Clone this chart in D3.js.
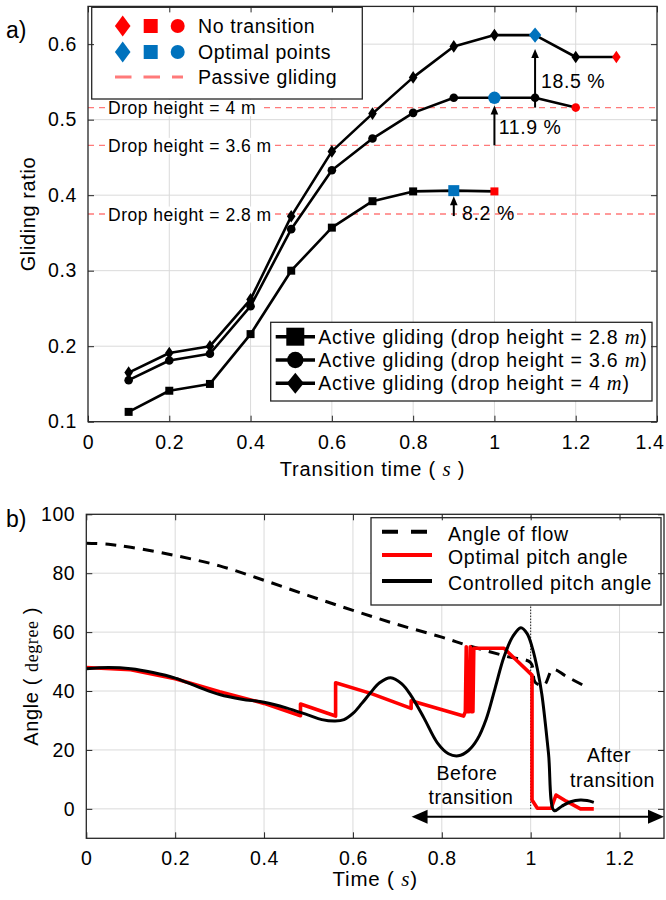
<!DOCTYPE html>
<html><head><meta charset="utf-8">
<script src="https://cdn.jsdelivr.net/npm/d3@7"></script>
<style>
body{margin:0;background:#fff;}
svg text{font-family:"Liberation Sans",Arial,sans-serif;fill:#000;}
</style></head><body>
<svg id="fig" width="666" height="900"></svg>
<script>
// ---------- panel a: gliding ratio vs transition time ----------
const transitionTimes = [0.1,0.2,0.3,0.4,0.5,0.6,0.7,0.8,0.9,1.0,1.1,1.2,1.3];
const ratioDrop28 = [0.113,0.141,0.150,0.216,0.300,0.357,0.392,0.405,0.406,0.405];
const ratioDrop36 = [0.155,0.181,0.190,0.253,0.355,0.433,0.475,0.509,0.529,0.529,0.529,0.516];
const ratioDrop40 = [0.165,0.191,0.200,0.262,0.372,0.458,0.508,0.556,0.597,0.612,0.612,0.583,0.583];
const dropHeights = ["2.8","3.6","4"];
const passiveRatios = [0.375,0.466,0.516];
const optimalIndex = [8,9,10];
const gainLabels = ["8.2 %","11.9 %","18.5 %"];
const ticksAx = [0,0.2,0.4,0.6,0.8,1,1.2,1.4];
const ticksAy = [0.1,0.2,0.3,0.4,0.5,0.6];

// ---------- panel b: pitch angle history ----------
const flowTime  = [0,0.05,0.1,0.2,0.3,0.4,0.5,0.6,0.7,0.8,0.86,0.95,1.0,1.01,1.03,1.05,1.08,1.13];
const flowAngle = [90.2,89.8,88.8,86,82.5,77.6,72.4,67.4,62.6,58.3,55.4,51.6,49.6,43,42,47.3,45,41];
const optTime  = [0,0.1,0.2,0.3,0.4,0.482,0.482,0.561,0.561,0.64,0.731,0.731,0.849,0.853,0.855,0.857,0.862,0.864,0.866,0.87,0.872,0.94,1.003,1.003,1.015,1.046,1.057,1.08,1.112,1.142];
const optAngle = [48,47.2,44.2,39.8,35.8,31.6,35.6,31.5,42.8,39.2,34.1,36.7,31.5,33,55,33,33,55,33,33,54.5,54.5,45.4,3,0.2,0.2,4.7,2.6,0,0];
const ctrlTime  = [0,0.05,0.1,0.15,0.2,0.25,0.3,0.35,0.4,0.45,0.5,0.53,0.56,0.58,0.6,0.62,0.64,0.66,0.685,0.71,0.73,0.76,0.79,0.815,0.837,0.86,0.88,0.9,0.92,0.94,0.96,0.978,0.992,1.004,1.015,1.025,1.04,1.053,1.07,1.09,1.112,1.127,1.142];
const ctrlAngle = [47.6,48,47.6,46.3,44.4,41.5,38.8,37.2,36.2,34.3,31.8,30.3,29.8,30.3,32.4,35.8,39.5,42.8,44.5,42.4,38.6,30.8,22.4,18.7,18,19.8,23.6,30.5,41,51.6,58.6,61.5,59.5,54.5,47.5,39,19,-0.6,0.9,2.4,3,2.8,2.2];
const ticksBx = [0,0.2,0.4,0.6,0.8,1,1.2];
const ticksBy = [0,20,40,60,80,100];
const transitionMoment = 1.0;
const phaseSpan = [0.732,1.3];

const RED = "#ff0000", BLUE = "#0072bd", PASSIVE = "#ff7a7a", AX = "#262626", GRID = "#dadada";
const FONT = "Liberation Sans, Arial, sans-serif", SERIF = "Liberation Serif, Times New Roman, serif";
const svg = d3.select("#fig");
svg.append("rect").attr("width",666).attr("height",900).attr("fill","#fff");

// marker path generators (centred at 0,0)
const diamondPath = (w,h)=>`M0,${-h}L${w},0L0,${h}L${-w},0Z`;
const squarePath = s=>`M${-s},${-s}H${s}V${s}H${-s}Z`;
const circlePath = r=>d3.symbol(d3.symbolCircle, Math.PI*r*r)();
function marker(g, kind, x, y, color, big){
  let d;
  if(kind==="square") d = squarePath(big?5.5:4);
  else if(kind==="circle") d = circlePath(big?6.2:4.3);
  else d = diamondPath(big?6.2:4.3, big?7.6:6.3);
  g.append("path").attr("d",d).attr("transform",`translate(${x},${y})`).attr("fill",color);
}

function frame(g, x, y, ticksX, ticksY){
  const [x0,x1] = x.range(), [y0,y1] = y.range();
  const grid = g.append("g");
  ticksX.forEach(t=>{ if(x(t)>x0+0.5 && x(t)<x1-0.5) grid.append("line").attr("x1",x(t)).attr("x2",x(t)).attr("y1",y0).attr("y2",y1).attr("stroke",GRID).attr("stroke-width",1);});
  ticksY.forEach(t=>{ if(y(t)<y0-0.5 && y(t)>y1+0.5) grid.append("line").attr("y1",y(t)).attr("y2",y(t)).attr("x1",x0).attr("x2",x1).attr("stroke",GRID).attr("stroke-width",1);});
}
function axesBox(g, x, y, ticksX, ticksY, fmtX, fmtY){
  const [x0,x1] = x.range(), [y0,y1] = y.range();
  const tl = 6;
  // bottom & left axes carry the labels; top & right only mirror the ticks
  const bx = d3.axisBottom(x).tickValues(ticksX).tickSizeInner(-tl).tickSizeOuter(0).tickPadding(13).tickFormat(fmtX);
  const ly = d3.axisLeft(y).tickValues(ticksY).tickSizeInner(-tl).tickSizeOuter(0).tickPadding(11).tickFormat(fmtY);
  const tx = d3.axisTop(x).tickValues(ticksX).tickSizeInner(-tl).tickSizeOuter(0).tickFormat("");
  const ry = d3.axisRight(y).tickValues(ticksY).tickSizeInner(-tl).tickSizeOuter(0).tickFormat("");
  const out = [];
  [[bx,`translate(0,${y0})`],[ly,`translate(${x0},0)`],[tx,`translate(0,${y1})`],[ry,`translate(${x1},0)`]].forEach(([a,t])=>{
    const ag = g.append("g").attr("transform",t).call(a);
    ag.select(".domain").remove();
    ag.selectAll("line").attr("stroke",AX);
    ag.selectAll("text").attr("font-size",19.5).attr("letter-spacing",0.6).attr("fill","#000").attr("font-family",FONT);
    out.push(ag);
  });
  g.append("rect").attr("x",x0).attr("y",y1).attr("width",x1-x0).attr("height",y0-y1).attr("fill","none").attr("stroke",AX).attr("stroke-width",1.3);
  return out;
}

// ================= panel a =================
const xa = d3.scaleLinear().domain([0,1.4]).range([88,657]);
const ya = d3.scaleLinear().domain([0.1,0.65]).range([421.7,6.4]);
const ga = svg.append("g");
frame(ga, xa, ya, ticksAx, ticksAy);

// passive gliding levels
passiveRatios.forEach(p=>{
  ga.append("line").attr("x1",xa.range()[0]).attr("x2",xa.range()[1]).attr("y1",ya(p)).attr("y2",ya(p))
    .attr("stroke",PASSIVE).attr("stroke-width",1.4).attr("stroke-dasharray","6,5");
});
passiveRatios.forEach((p,i)=>{
  const t = ga.append("text").attr("x",108).attr("y",ya(p)+6.5).attr("font-size",17.5).attr("letter-spacing",0.5)
    .text(`Drop height = ${dropHeights[i]} m`);
  const bb = t.node().getBBox();
  ga.insert("rect", function(){return t.node();}).attr("x",bb.x-3).attr("y",bb.y+2).attr("width",bb.width+6).attr("height",bb.height-4).attr("fill","#fff");
});

const seriesA = [
  {vals: ratioDrop28, kind:"square"},
  {vals: ratioDrop36, kind:"circle"},
  {vals: ratioDrop40, kind:"diamond"}
];
const lineA = d3.line().x(d=>xa(d[0])).y(d=>ya(d[1]));
seriesA.forEach((s,si)=>{
  const pts = s.vals.map((v,i)=>[transitionTimes[i],v]);
  ga.append("path").attr("d",lineA(pts)).attr("fill","none").attr("stroke","#000").attr("stroke-width",2.6).attr("stroke-linejoin","round");
  pts.forEach((p,i)=>{
    const last = i===pts.length-1, opt = i===optimalIndex[si];
    const col = last?RED:(opt?BLUE:"#000");
    marker(ga, s.kind, xa(p[0]), ya(p[1]), col, opt);
  });
});

// gain arrows from the passive level up to the optimal point
const tipGap = [0, 1.5, 14];
seriesA.forEach((s,si)=>{
  const oi = optimalIndex[si];
  const xp = xa(transitionTimes[oi]);
  const yStart = ya(passiveRatios[si]) + (si===0?2:0);
  const yTip = ya(s.vals[oi]) + (si===2?0:(si===1?6.2:5.5)) + tipGap[si];
  ga.append("line").attr("x1",xp).attr("x2",xp).attr("y1",yStart).attr("y2",yTip+7).attr("stroke","#000").attr("stroke-width",2);
  ga.append("path").attr("d",`M${xp},${yTip}L${xp+3.8},${yTip+9}L${xp-3.8},${yTip+9}Z`).attr("fill","#000");
});
const gainLabelPos = [[462,220],[498.7,134],[541,88]];
gainLabels.forEach((l,i)=>ga.append("text").attr("x",gainLabelPos[i][0]).attr("y",gainLabelPos[i][1]).attr("font-size",19.5).attr("letter-spacing",0.6).text(l));

// legend: marker meanings
const lg1 = ga.append("g");
lg1.append("rect").attr("x",91.7).attr("y",7.3).attr("width",270.6).attr("height",91.7).attr("fill","#fff").attr("stroke",AX).attr("stroke-width",1.3);
[["No transition",RED,26],["Optimal points",BLUE,52]].forEach(([lab,col,yy])=>{
  lg1.append("path").attr("d",diamondPath(7.8,10.5)).attr("transform",`translate(122.7,${yy})`).attr("fill",col);
  lg1.append("path").attr("d",squarePath(7)).attr("transform",`translate(150.7,${yy})`).attr("fill",col);
  lg1.append("path").attr("d",circlePath(7)).attr("transform",`translate(177.7,${yy})`).attr("fill",col);
  lg1.append("text").attr("x",198).attr("y",yy+7).attr("font-size",19.5).attr("letter-spacing",0.6).text(lab);
});
lg1.append("line").attr("x1",115).attr("x2",183).attr("y1",77).attr("y2",77).attr("stroke",PASSIVE).attr("stroke-width",3).attr("stroke-dasharray","16.5,12");
lg1.append("text").attr("x",198).attr("y",84).attr("font-size",19.5).attr("letter-spacing",0.6).text("Passive gliding");

// legend: active gliding series
const lg2 = ga.append("g");
lg2.append("rect").attr("x",270.7).attr("y",322.3).attr("width",381.3).attr("height",78.7).attr("fill","#fff").attr("stroke",AX).attr("stroke-width",1.3);
const lg2Rows = [336.7,360,383.3];
seriesA.forEach((s,si)=>{
  const yy = lg2Rows[si];
  lg2.append("line").attr("x1",275.7).attr("x2",315).attr("y1",yy).attr("y2",yy).attr("stroke","#000").attr("stroke-width",3.5);
  let d;
  if(s.kind==="square") d = squarePath(9);
  else if(s.kind==="circle") d = circlePath(8.2);
  else d = diamondPath(8.5,10.5);
  lg2.append("path").attr("d",d).attr("transform",`translate(295.3,${yy})`).attr("fill","#000");
  const t = lg2.append("text").attr("x",318.3).attr("y",yy+7).attr("font-size",19.5).attr("letter-spacing",0.8);
  t.append("tspan").text(`Active gliding (drop height = ${dropHeights[si]} `);
  t.append("tspan").attr("font-family",SERIF).attr("font-style","italic").attr("font-size",20.5).text("m");
  t.append("tspan").text(")");
});

const axA = axesBox(ga, xa, ya, ticksAx, ticksAy, d3.format("~g"), d3.format(".1f"));
// keep the last x label inside the page
axA[0].selectAll(".tick text").filter(d=>d===1.4).attr("text-anchor","end").attr("dx",7);

// axis titles
const xtA = ga.append("text").attr("x",(xa.range()[0]+xa.range()[1])/2).attr("y",476).attr("text-anchor","middle").attr("font-size",20).attr("letter-spacing",0.8);
xtA.append("tspan").text("Transition time ( ");
xtA.append("tspan").attr("font-family",SERIF).attr("font-style","italic").attr("font-size",21).text("s");
xtA.append("tspan").text(" )");
ga.append("text").attr("transform",`translate(35,${(ya.range()[0]+ya.range()[1])/2}) rotate(-90)`).attr("text-anchor","middle").attr("font-size",20).attr("letter-spacing",0.6).text("Gliding ratio");
svg.append("text").attr("x",6).attr("y",38).attr("font-size",23).text("a)");

// ================= panel b =================
const xb = d3.scaleLinear().domain([0,1.3]).range([86.3,664]);
const yb = d3.scaleLinear().domain([-10,100]).range([838.3,514.3]);
const gb = svg.append("g");
frame(gb, xb, yb, ticksBx, ticksBy);

// transition instant
gb.append("line").attr("x1",xb(transitionMoment)).attr("x2",xb(transitionMoment)).attr("y1",yb(0)).attr("y2",yb(100))
  .attr("stroke","#000").attr("stroke-width",1).attr("stroke-dasharray","1.2,1.8");

const smooth = d3.line().x(d=>xb(d[0])).y(d=>yb(d[1])).curve(d3.curveCatmullRom.alpha(0.5));
const straight = d3.line().x(d=>xb(d[0])).y(d=>yb(d[1]));
gb.append("path").attr("d",smooth(flowTime.map((t,i)=>[t,flowAngle[i]]))).attr("fill","none").attr("stroke","#000").attr("stroke-width",3).attr("stroke-dasharray","11,8");
gb.append("path").attr("d",straight(optTime.map((t,i)=>[t,optAngle[i]]))).attr("fill","none").attr("stroke",RED).attr("stroke-width",3.6).attr("stroke-linejoin","round");
gb.append("path").attr("d",smooth(ctrlTime.map((t,i)=>[t,ctrlAngle[i]]))).attr("fill","none").attr("stroke","#000").attr("stroke-width",3).attr("stroke-linejoin","round");

// before / after transition span
const yArrow = yb(-2.7);
const xl = xb(phaseSpan[0]), xr = xb(phaseSpan[1]);
gb.append("line").attr("x1",xl+10).attr("x2",xr-10).attr("y1",yArrow).attr("y2",yArrow).attr("stroke","#000").attr("stroke-width",2);
gb.append("path").attr("d",`M${xl},${yArrow}L${xl+16},${yArrow-7}L${xl+16},${yArrow+7}Z`).attr("fill","#000");
gb.append("path").attr("d",`M${xr},${yArrow}L${xr-16},${yArrow-7}L${xr-16},${yArrow+7}Z`).attr("fill","#000");
[["Before",467,780],["transition",471,804],["After",609,762],["transition",612.5,787]].forEach(([s,x,y])=>
  gb.append("text").attr("x",x).attr("y",y).attr("text-anchor","middle").attr("font-size",19.5).attr("letter-spacing",0.6).text(s));

// legend
const lg3 = gb.append("g");
lg3.append("rect").attr("x",371).attr("y",517.7).attr("width",290).attr("height",87.3).attr("fill","#fff").attr("stroke",AX).attr("stroke-width",1.3);
[["Angle of flow","#000","16,13",531.7],["Optimal pitch angle",RED,null,555],["Controlled pitch angle","#000",null,581]].forEach(([lab,col,dash,yy])=>{
  const l = lg3.append("line").attr("x1",382).attr("x2",432).attr("y1",yy).attr("y2",yy).attr("stroke",col).attr("stroke-width",4);
  if(dash) l.attr("stroke-dasharray",dash);
  lg3.append("text").attr("x",448).attr("y",yy+9).attr("font-size",19.5).attr("letter-spacing",0.7).text(lab);
});

axesBox(gb, xb, yb, ticksBx, ticksBy, d3.format("~g"), d3.format("d"));

const xtB = gb.append("text").attr("x",(xb.range()[0]+xb.range()[1])/2).attr("y",886).attr("text-anchor","middle").attr("font-size",20.5).attr("letter-spacing",0.8);
xtB.append("tspan").text("Time ( ");
xtB.append("tspan").attr("font-family",SERIF).attr("font-style","italic").attr("font-size",21).text("s");
xtB.append("tspan").text(")");
const ytB = gb.append("text").attr("transform",`translate(38,${(yb.range()[0]+yb.range()[1])/2}) rotate(-90)`).attr("text-anchor","middle").attr("font-size",20).attr("letter-spacing",0.6);
ytB.append("tspan").text("Angle ( ");
ytB.append("tspan").attr("font-family",SERIF).attr("font-size",18).text("degree");
ytB.append("tspan").text(" )");
svg.append("text").attr("x",6).attr("y",527).attr("font-size",23).text("b)");
</script>
</body></html>
